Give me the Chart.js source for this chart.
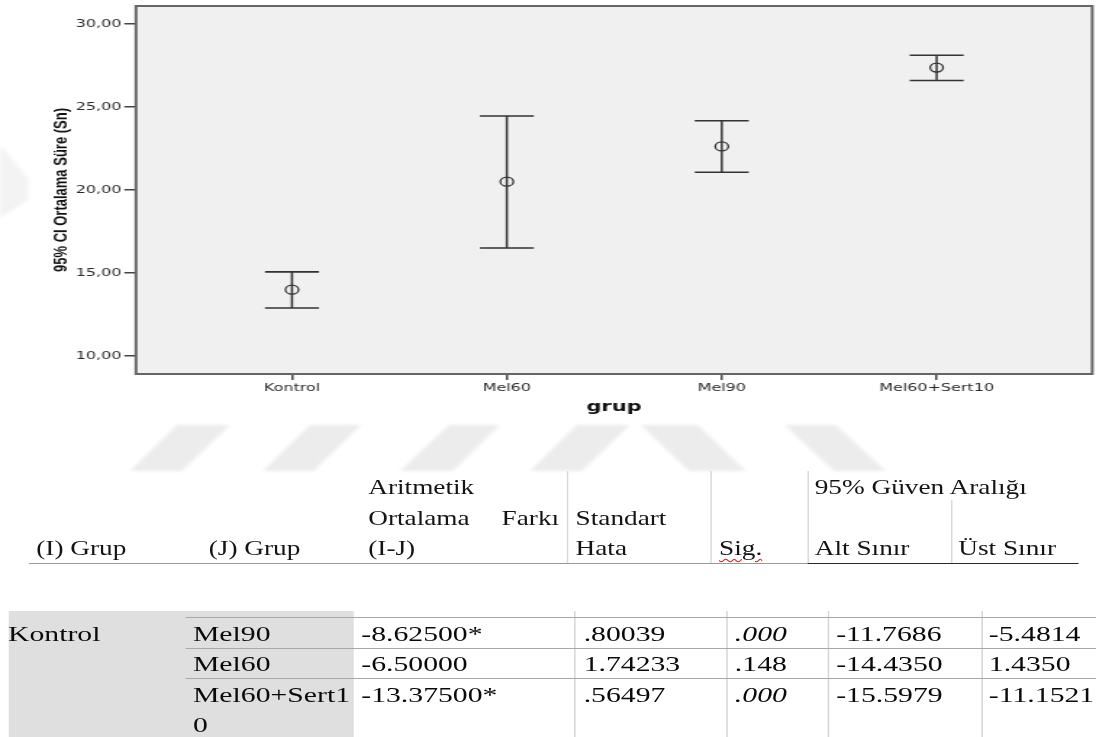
<!DOCTYPE html>
<html lang="tr">
<head>
<meta charset="utf-8">
<title>grup - 95% CI</title>
<script src="https://cdn.jsdelivr.net/npm/chart.js@4/dist/chart.umd.min.js"></script>
<style>
  html, body { margin: 0; padding: 0; background: #fff; overflow: hidden; }
  /* the source picture is stretched sideways, so the page is laid out narrow and widened */
  #page { position: absolute; left: 0; top: 0; width: 756px; height: 737px;
          transform: scaleX(1.4497); transform-origin: 0 0; }
  #chart-box { position: absolute; left: 0; top: 0; width: 756px; height: 420px; }
  #watermark { position: absolute; left: 0; top: 0; }
  .t { position: absolute; font-family: "Liberation Serif", "Times New Roman", serif;
       color: #141414; white-space: nowrap; }
  .h { font-size: 22px; line-height: 1; transform: scaleX(0.855); transform-origin: 0 0; }
  .b { font-size: 20.5px; line-height: 30px; color: #0a0a0a; }
  .wrap { white-space: normal; word-break: break-all; width: 112px; }
  .i { font-style: italic; }
  .sig { text-decoration: underline wavy #d02020; text-decoration-thickness: 1px; text-underline-offset: 3px; }
  .ln { position: absolute; }
</style>
</head>
<body>
<div id="page">
  <svg id="watermark" width="756" height="737">
    <defs><filter id="soft"><feGaussianBlur stdDeviation="1.5"></feGaussianBlur></filter></defs>
    <g fill="#ececec" filter="url(#soft)">
      <polygon points="89.7,471 125.5,471 158.6,425 122.1,425"></polygon>
      <polygon points="181.4,471 216.6,471 249,425 213.8,425"></polygon>
      <polygon points="275.9,471 312.4,471 344.8,425 309.7,425"></polygon>
      <polygon points="365.5,471 401.4,471 434.5,425 397.9,425"></polygon>
      <polygon points="442,425 481.4,425 514.5,471 475.2,471"></polygon>
      <polygon points="541.4,425 576.6,425 611,471 575.2,471"></polygon>
      <polygon points="0,145 19.3,178 19.3,200 0,218" fill="#f3f3f3"></polygon>
    </g>
  </svg>
  <div id="chart-box"><canvas id="ci-chart" width="756" height="420"></canvas></div>
  <div id="table"></div>
</div>

<script>
  // chart data
  const categories = ['Kontrol', 'Mel60', 'Mel90', 'Mel60+Sert10'];
  const meanValues = [14.0, 20.5, 22.625, 27.375];
  const ciLower = [12.89, 16.51, 21.07, 26.59];
  const ciUpper = [15.07, 24.46, 24.17, 28.11];
  const yTickValues = [10, 15, 20, 25, 30];

  // table data
  const groupI = 'Kontrol';
  const groupJ = ['Mel90', 'Mel60', 'Mel60+Sert10'];
  const meanDiff = ['-8.62500*', '-6.50000', '-13.37500*'];
  const stdError = ['.80039', '1.74233', '.56497'];
  const sigValues = ['.000', '.148', '.000'];
  const lowerBound = ['-11.7686', '-14.4350', '-15.5979'];
  const upperBound = ['-5.4814', '1.4350', '-11.1521'];

  const tickFont = {family: '"DejaVu Sans", sans-serif', size: 11};
  const inkColor = '#2b2b2b';

  function buildErrorBars() {
    const segments = [];
    const caps = [];
    const means = [];
    categories.forEach((name, idx) => {
      segments.push({x: idx, y: ciLower[idx]}, {x: idx, y: ciUpper[idx]}, {x: idx, y: null});
      caps.push({x: idx, y: ciLower[idx]}, {x: idx, y: ciUpper[idx]});
      means.push({x: idx, y: meanValues[idx]});
    });
    return {segments, caps, means};
  }

  const plotFrame = {
    id: 'plotFrame',
    beforeDraw(chart) {
      const {ctx, chartArea: a} = chart;
      ctx.save();
      ctx.fillStyle = '#f0f0f0';
      ctx.fillRect(a.left, a.top, a.right - a.left, a.bottom - a.top);
      ctx.restore();
    },
    afterDraw(chart) {
      const {ctx, chartArea: a} = chart;
      ctx.save();
      ctx.strokeStyle = '#666';
      ctx.lineWidth = 2;
      ctx.strokeRect(a.left, a.top, a.right - a.left, a.bottom - a.top);
      ctx.restore();
    }
  };

  function clearPadding(scale) {
    scale.paddingLeft = 0;
    scale.paddingRight = 0;
    scale.paddingTop = 0;
    scale.paddingBottom = 0;
  }

  function renderChart() {
    const bars = buildErrorBars();

    new Chart(document.getElementById('ci-chart').getContext('2d'), {
      type: 'scatter',
      data: {
        datasets: [{
          type: 'line',
          data: bars.segments,
          borderColor: '#333',
          borderWidth: 1.5,
          pointRadius: 0,
          spanGaps: false
        }, {
          data: bars.caps,
          pointStyle: 'line',
          pointRadius: 18.6,
          borderColor: '#333',
          borderWidth: 1.6
        }, {
          data: bars.means,
          pointStyle: 'circle',
          pointRadius: 4.5,
          borderColor: '#333',
          borderWidth: 1.3,
          backgroundColor: 'rgba(0,0,0,0)'
        }]
      },
      options: {
        responsive: false,
        animation: false,
        events: [],
        layout: {
          autoPadding: false,
          padding: {top: 6, right: 2.6, left: 0, bottom: 0}
        },
        plugins: {
          legend: {display: false},
          tooltip: {enabled: false}
        },
        scales: {
          x: {
            type: 'linear',
            min: -0.726,
            max: 3.724,
            afterBuildTicks: scale => {
              scale.ticks = categories.map((name, idx) => ({value: idx}));
            },
            afterFit: scale => {
              scale.height = 46;
              clearPadding(scale);
            },
            ticks: {
              callback: value => categories[value],
              font: tickFont,
              color: inkColor,
              padding: 2,
              autoSkip: false,
              maxRotation: 0
            },
            grid: {
              drawOnChartArea: false,
              tickLength: 6,
              color: '#444',
              lineWidth: 1.5
            },
            border: {display: false},
            title: {
              display: true,
              text: 'grup',
              color: '#111',
              font: {family: '"DejaVu Sans", sans-serif', size: 14.5, weight: 'bold'},
              padding: {top: 0, bottom: 4}
            }
          },
          y: {
            min: 8.92,
            max: 31.08,
            afterBuildTicks: scale => {
              scale.ticks = yTickValues.map(v => ({value: v}));
            },
            afterFit: scale => {
              scale.width = 93.8;
              clearPadding(scale);
            },
            ticks: {
              callback: value => value.toFixed(2).replace('.', ','),
              font: tickFont,
              color: inkColor,
              padding: 2
            },
            grid: {
              drawOnChartArea: false,
              tickLength: 8,
              color: '#444',
              lineWidth: 1.5
            },
            border: {display: false},
            title: {
              display: true,
              text: '95% CI Ortalama Süre (Sn)',
              color: '#111',
              font: {family: '"Liberation Sans Narrow", "Liberation Sans", Arial, sans-serif', size: 13, weight: 'bold'},
              padding: {top: 35.0, bottom: 0}
            }
          }
        }
      },
      plugins: [plotFrame]
    });
  }

  function addText(cls, text, x, top) {
    const el = document.createElement('div');
    el.className = 't ' + cls;
    el.textContent = text;
    el.style.left = x + 'px';
    el.style.top = top + 'px';
    document.getElementById('table').appendChild(el);
    return el;
  }

  function addLine(x, y, w, h, color) {
    const el = document.createElement('div');
    el.className = 'ln';
    Object.assign(el.style, {left: x + 'px', top: y + 'px', width: w + 'px', height: h + 'px', background: color});
    document.getElementById('table').appendChild(el);
  }

  function renderTable() {
    // header, three text lines
    const hTop = [475.6, 506.6, 536.8];
    addText('h', 'Aritmetik', 253.6, hTop[0]);
    addText('h', 'Ortalama', 253.6, hTop[1]);
    addText('h', 'Farkı', 346.2, hTop[1]);
    addText('h', '(I-J)', 253.6, hTop[2]);
    addText('h', '(I) Grup', 25.4, hTop[2]);
    addText('h', '(J) Grup', 144.0, hTop[2]);
    addText('h', 'Standart', 397.2, hTop[1]);
    addText('h', 'Hata', 397.2, hTop[2]);
    addText('h sig', 'Sig.', 496.3, hTop[2]);
    addText('h', '95% Güven Aralığı', 562.4, hTop[0]);
    addText('h', 'Alt Sınır', 562.4, hTop[2]);
    addText('h', 'Üst Sınır', 661.0, hTop[2]);

    addLine(391.0, 471, 0.7, 92, '#d8d8d8');
    addLine(490.3, 471, 0.7, 92, '#d8d8d8');
    addLine(556.6, 471, 0.7, 92, '#d8d8d8');
    addLine(655.9, 500, 0.7, 63, '#d8d8d8');
    addLine(20, 562.5, 536.6, 1.5, '#9a9a9a');
    addLine(556.6, 562.5, 187.2, 1.5, '#2a2a2a');

    // body
    addLine(5.5, 611, 238.6, 126, '#dfdfdf');
    [574, 727, 828, 981].forEach(x => addLine(x / 1.4497, 611, 0.7, 126, '#d4d4d4'));
    [617, 647.5, 678].forEach(y => addLine(127.6, y, 628.4, 1.3, '#a8a8a8'));

    const rowTop = [619.1, 649.1, 680.1];
    const cols = [133.1, 249.2, 402.6, 506.9, 576.8, 682.1];
    addText('b', groupI, 5.5, rowTop[0]);
    groupJ.forEach((name, r) => {
      addText('b wrap', name, cols[0], rowTop[r]);
      addText('b', meanDiff[r], cols[1], rowTop[r]);
      addText('b', stdError[r], cols[2], rowTop[r]);
      addText(sigValues[r] === '.000' ? 'b i' : 'b', sigValues[r], cols[3], rowTop[r]);
      addText('b', lowerBound[r], cols[4], rowTop[r]);
      addText('b', upperBound[r], cols[5], rowTop[r]);
    });
  }

  renderChart();
  renderTable();
</script>
</body>
</html>
